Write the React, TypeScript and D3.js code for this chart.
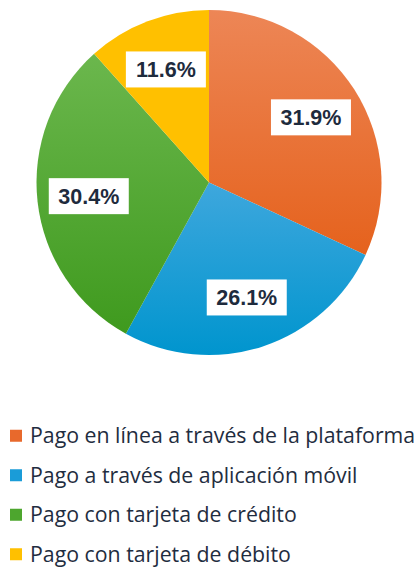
import React from "react";
import * as d3 from "d3";

const categories = [
  "Pago en línea a través de la plataforma",
  "Pago a través de aplicación móvil",
  "Pago con tarjeta de crédito",
  "Pago con tarjeta de débito",
];
const values = [31.9, 26.1, 30.4, 11.6];
const labels = ["31.9%", "26.1%", "30.4%", "11.6%"];
const colorsTop = ["#ED8656", "#3EA7DD", "#6BB74D", "#FFC000"];
const colorsBottom = ["#E5621D", "#0095CE", "#3F9A1E", "#FFC000"];
const legendColors = ["#E8692C", "#1A9CD8", "#4DA62E", "#FFC000"];

const W = 419;
const H = 575;
const cx = 209;
const cy = 182.5;
const R = 172.5;
const labelR = 121;

export default function App() {
  const pie = d3
    .pie<number>()
    .value((d) => d)
    .sort(null)
    .startAngle(0)
    .endAngle(2 * Math.PI);
  const arcs = pie(values);
  const arc = d3.arc<d3.PieArcDatum<number>>().innerRadius(0).outerRadius(R);
  const labelArc = d3
    .arc<d3.PieArcDatum<number>>()
    .innerRadius(labelR)
    .outerRadius(labelR);

  const legendY = d3
    .scaleBand<number>()
    .domain(categories.map((_, i) => i))
    .range([416, 574])
    .paddingInner(0);

  return (
    <svg
      width={W}
      height={H}
      style={{ position: "absolute", left: 0, top: 0, background: "#fff" }}
    >
      <defs>
        {arcs.map((_, i) => (
          <linearGradient key={i} id={`g${i}`} x1="0" y1="0" x2="0" y2="1">
            <stop offset="0%" stopColor={colorsTop[i]} />
            <stop offset="100%" stopColor={colorsBottom[i]} />
          </linearGradient>
        ))}
      </defs>
      <g transform={`translate(${cx},${cy})`}>
        {arcs.map((a, i) => (
          <path key={i} d={arc(a) || ""} fill={`url(#g${i})`} />
        ))}
        {arcs.map((a, i) => {
          const [x, y] = labelArc.centroid(a);
          return (
            <g key={i} transform={`translate(${x},${y})`}>
              <rect x={-40} y={-18} width={80} height={36} fill="#fff" />
              <text
                textAnchor="middle"
                dy="0.36em"
                fontFamily="Liberation Sans, Arial, sans-serif"
                fontWeight="bold"
                fontSize={21.5}
                fill="#1E2B3D"
              >
                {labels[i]}
              </text>
            </g>
          );
        })}
      </g>
      <g>
        {categories.map((c, i) => {
          const yc = (legendY(i) || 0) + legendY.bandwidth() / 2;
          return (
            <g key={i} transform={`translate(0,${yc})`}>
              <rect x={10} y={-6} width={12} height={12} fill={legendColors[i]} />
              <text
                x={30}
                dy="0.35em"
                fontFamily="Open Sans, sans-serif"
                fontSize={21.3}
                fill="#1F2D40"
              >
                {c}
              </text>
            </g>
          );
        })}
      </g>
    </svg>
  );
}
